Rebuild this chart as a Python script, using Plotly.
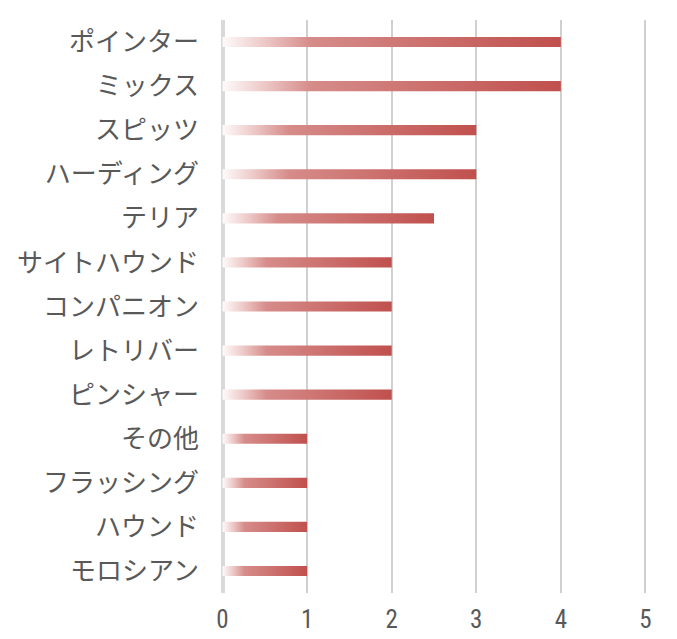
import plotly.graph_objects as go

categories = ["ポインター", "ミックス", "スピッツ", "ハーディング", "テリア", "サイトハウンド",
              "コンパニオン", "レトリバー", "ピンシャー", "その他", "フラッシング", "ハウンド", "モロシアン"]
values = [4, 4, 3, 3, 2.5, 2, 2, 2, 2, 1, 1, 1, 1]
x_ticks = [0, 1, 2, 3, 4, 5]

BAR_HALF = 0.115
gradient = [[0.0, "#fefafa"], [0.12, "#edcac9"], [0.26, "#d68c8a"], [1.0, "#c0504d"]]

fig = go.Figure()
for i, (c, v) in enumerate(zip(categories, values)):
    fig.add_trace(go.Scatter(
        x=[0, v, v, 0, 0],
        y=[i - BAR_HALF, i - BAR_HALF, i + BAR_HALF, i + BAR_HALF, i - BAR_HALF],
        mode="lines", fill="toself",
        line=dict(width=0, color="rgba(0,0,0,0)"),
        fillgradient=dict(type="horizontal", colorscale=gradient, start=0, stop=v),
        hoverinfo="skip", showlegend=False, name=c,
    ))

fig.update_layout(
    width=677, height=639,
    margin=dict(l=220, r=29, t=20, b=46),
    paper_bgcolor="white", plot_bgcolor="white",
    xaxis=dict(range=[-0.03, 5.03], tickvals=x_ticks, showgrid=True, gridcolor="rgba(150,150,150,0.45)",
               gridwidth=1.5, layer="above traces", automargin=False,
               zeroline=True, zerolinecolor="rgba(160,160,160,0.4)", zerolinewidth=4, showline=False, ticks="",
               ticklabelstandoff=9,
               tickfont=dict(family="Roboto Condensed, DejaVu Sans Condensed, Roboto", size=25, color="#595959")),
    yaxis=dict(range=[12.5, -0.5], tickvals=list(range(len(categories))), ticktext=categories,
               showgrid=False, zeroline=False, showline=False, ticks="", ticklabelstandoff=20, automargin=False,
               tickfont=dict(family="Noto Sans CJK JP", size=26, color="#595959")),
)
fig.write_html("out.html")
